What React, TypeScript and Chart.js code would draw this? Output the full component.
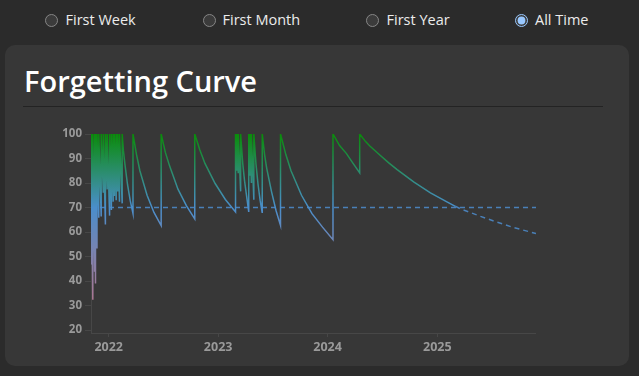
import React, { useEffect, useRef } from 'react';
import { Chart, registerables } from 'chart.js';

Chart.register(...registerables);

// ---- data ----
const curveDates = [
  '2021-11-03', '2021-11-04', '2021-11-04', '2021-11-09', '2021-11-09', '2021-11-15', '2021-11-15',
  '2021-11-18', '2021-11-18', '2021-11-23', '2021-11-23', '2021-11-29', '2021-11-29', '2021-12-07',
  '2021-12-07', '2021-12-14', '2021-12-14', '2021-12-21', '2021-12-21', '2021-12-27', '2021-12-27',
  '2022-01-04', '2022-01-04', '2022-01-10', '2022-01-10', '2022-01-16', '2022-01-16', '2022-01-20',
  '2022-01-20', '2022-01-26', '2022-01-26', '2022-01-31', '2022-01-31', '2022-02-06', '2022-02-06',
  '2022-02-15', '2022-02-15', '2022-02-19', '2022-02-24', '2022-03-05', '2022-03-14', '2022-03-23',
  '2022-03-23', '2022-04-04', '2022-04-15', '2022-05-09', '2022-06-01', '2022-06-25',
  '2022-06-25', '2022-07-09', '2022-07-23', '2022-08-20', '2022-09-17', '2022-10-15',
  '2022-10-15', '2022-11-01', '2022-11-18', '2022-12-22', '2023-01-25', '2023-02-28',
  '2023-02-28', '2023-03-04', '2023-03-04', '2023-03-09', '2023-03-09', '2023-03-17', '2023-03-17',
  '2023-03-24', '2023-03-30', '2023-04-13', '2023-04-13', '2023-04-17', '2023-04-17', '2023-04-22',
  '2023-04-22', '2023-04-30', '2023-04-30', '2023-05-07', '2023-05-14', '2023-05-21', '2023-05-28',
  '2023-05-28', '2023-06-05', '2023-06-12', '2023-06-28', '2023-07-13', '2023-07-28',
  '2023-07-28', '2023-08-15', '2023-09-01', '2023-10-06', '2023-11-10', '2023-12-15', '2024-01-19',
  '2024-01-19', '2024-02-10', '2024-03-04', '2024-03-26', '2024-04-17',
  '2024-04-17', '2024-05-06', '2024-05-20', '2024-06-25', '2024-07-22', '2024-08-20', '2024-10-14',
  '2024-12-09', '2025-02-02', '2025-03-02',
];
const curveRetention = [
  100, 46.7, 100, 32.4, 100, 43.8, 100,
  39, 100, 53.3, 100, 65.8, 100, 66.3,
  100, 76, 100, 63.1, 100, 77.4, 100,
  66.7, 100, 69, 100, 72.4, 100, 74.7,
  100, 73, 100, 76.5, 100, 72.4, 100,
  71.7, 100, 93.3, 87.8, 79.2, 72.7, 67.6,
  100, 91.5, 85, 75, 68, 62.6,
  100, 92.5, 87, 77.5, 70.8, 65.4,
  100, 93.5, 88, 79.8, 73.3, 68.2,
  100, 85, 100, 84, 100, 76.6, 100,
  88, 81, 68.2, 100, 83, 100, 80,
  100, 73.2, 100, 88, 79.5, 73, 67.8,
  100, 91.5, 86, 76.5, 68.8, 62.7,
  100, 91.5, 85, 75, 67.5, 62, 56.9,
  100, 95.3, 92, 88, 84.1,
  100, 97, 95.2, 91.2, 88.3, 85.5, 80.5,
  76, 72.3, 70.5,
];
const projectionDates = ['2025-03-02', '2025-03-19', '2025-05-25', '2025-07-20', '2025-09-13', '2025-11-26'];
const projectionRetention = [70.5, 69.5, 66.4, 64, 61.8, 59.4];
const targetRetention = 70;
const yearTickDates = ['2022-01-01', '2023-01-01', '2024-01-01', '2025-01-01'];
const yearTickLabels = ['2022', '2023', '2024', '2025'];
const yTickValues = [20, 30, 40, 50, 60, 70, 80, 90, 100];
const rangeOptions = ['First Week', 'First Month', 'First Year', 'All Time'];
const selectedRange = 'All Time';

const day = (s: string) => Date.parse(s + 'T00:00:00Z') / 86400000;

export default function App() {
  const ref = useRef<HTMLCanvasElement>(null);

  useEffect(() => {
    if (!ref.current) return;
    const curve = curveDates.map((d, i) => ({ x: day(d), y: curveRetention[i] }));
    const proj = projectionDates.map((d, i) => ({ x: day(d), y: projectionRetention[i] }));
    const xMin = day(curveDates[0]);
    const xMax = day(projectionDates[projectionDates.length - 1]);
    const target = [
      { x: xMin, y: targetRetention },
      { x: xMax, y: targetRetention },
    ];
    const tickDays = yearTickDates.map(day);

    const chart = new Chart(ref.current, {
      type: 'line',
      data: {
        datasets: [
          {
            data: curve,
            borderWidth: 1.5,
            pointRadius: 0,
            tension: 0,
            borderColor: (c: any) => {
              const ch = c.chart;
              const { chartArea, scales } = ch;
              if (!chartArea) return '#4a8ecb';
              const y = scales.y;
              const g = ch.ctx.createLinearGradient(0, y.getPixelForValue(100), 0, y.getPixelForValue(20));
              g.addColorStop(0, '#0a8c0a');
              g.addColorStop(0.375, '#4a8ecb');
              g.addColorStop(1, '#cc6f80');
              return g;
            },
          },
          {
            data: proj,
            borderWidth: 1.5,
            pointRadius: 0,
            borderDash: [5, 4],
            borderColor: '#4a80b8',
          },
          {
            data: target,
            borderWidth: 1.5,
            pointRadius: 0,
            borderDash: [5, 4],
            borderColor: '#4a80b8',
          },
        ],
      },
      options: {
        animation: false,
        responsive: false,
        layout: { padding: { top: 10, left: 0, right: 0, bottom: 0 } },
        plugins: { legend: { display: false }, tooltip: { enabled: false } },
        scales: {
          x: {
            type: 'linear',
            min: xMin,
            max: xMax,
            afterBuildTicks: (s: any) => {
              s.ticks = tickDays.map((v) => ({ value: v }));
            },
            afterFit: (s: any) => {
              s.height = 30;
            },
            grid: { drawOnChartArea: false, color: '#474747', tickLength: 4 },
            border: { color: '#474747' },
            ticks: {
              color: '#9a9a9a',
              padding: 3,
              maxRotation: 0,
              font: { family: 'Open Sans', size: 12.5, weight: 'bold' },
              callback: (v: any) => {
                const i = tickDays.indexOf(v);
                return i >= 0 ? yearTickLabels[i] : '';
              },
            },
          },
          y: {
            min: 18.8,
            max: 100,
            afterBuildTicks: (s: any) => {
              s.ticks = yTickValues.map((v) => ({ value: v }));
            },
            afterFit: (s: any) => {
              s.width = 40;
            },
            grid: { drawOnChartArea: false, color: '#474747', tickLength: 6 },
            border: { color: '#474747' },
            ticks: {
              color: '#9a9a9a',
              padding: 3,
              font: { family: 'Open Sans', size: 11.5, weight: 'bold' },
            },
          },
        },
      },
    } as any);
    return () => chart.destroy();
  }, []);

  const radioCenters = [51.5, 209, 372, 521.5];
  const labelLefts = [65.5, 222.5, 386.5, 535];

  return (
    <div
      style={{
        position: 'fixed',
        left: 0,
        top: 0,
        width: 639,
        height: 376,
        background: '#2b2b2b',
        overflow: 'hidden',
        fontFamily: "'Open Sans', sans-serif",
        colorScheme: 'dark',
      }}
    >
      {rangeOptions.map((o, i) => (
        <React.Fragment key={o}>
          <input
            type="radio"
            name="range"
            readOnly
            checked={o === selectedRange}
            style={{
              position: 'absolute',
              left: radioCenters[i] - 6.5,
              top: 14.2,
              width: 13,
              height: 13,
              margin: 0,
              colorScheme: 'dark',
            }}
          />
          <span
            style={{
              position: 'absolute',
              left: labelLefts[i],
              top: 13.4,
              fontSize: 14.5,
              lineHeight: 1,
              color: '#ececec',
              whiteSpace: 'nowrap',
            }}
          >
            {o}
          </span>
        </React.Fragment>
      ))}
      <div
        style={{
          position: 'absolute',
          left: 5,
          top: 45,
          width: 624,
          height: 321,
          background: '#373737',
          borderRadius: 10,
        }}
      >
        <div
          style={{
            position: 'absolute',
            left: 19,
            top: 21,
            fontSize: 29,
            lineHeight: 1,
            fontWeight: 600,
            color: '#ffffff',
            whiteSpace: 'nowrap',
          }}
        >
          Forgetting Curve
        </div>
        <div
          style={{
            position: 'absolute',
            left: 18,
            top: 61,
            width: 580,
            height: 1,
            background: '#232323',
          }}
        />
      </div>
      <div style={{ position: 'absolute', left: 51, top: 124, width: 485, height: 239 }}>
        <canvas ref={ref} width={485} height={239} style={{ width: 485, height: 239, display: 'block' }} />
      </div>
    </div>
  );
}
